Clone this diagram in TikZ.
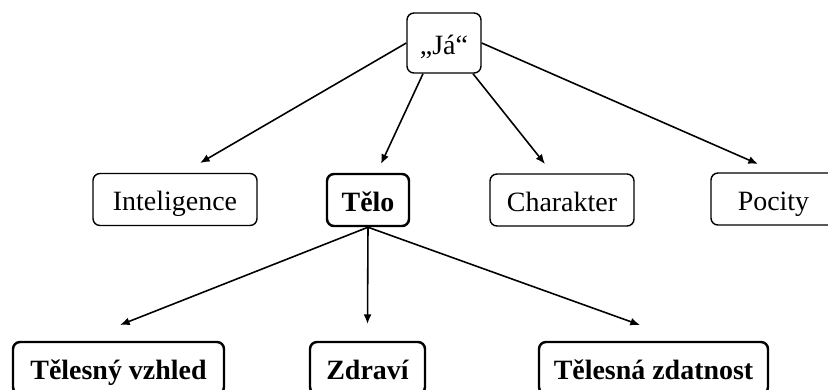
\documentclass[tikz,border=0pt]{standalone}
\usepackage{fontspec}
\setmainfont{Liberation Serif}
\usetikzlibrary{arrows.meta}
\newcommand{\boxfont}{\fontsize{15.9}{18}\selectfont}
\tikzset{
  box/.style={draw,rounded corners=0.14cm,line width=0.8pt,inner sep=0pt,minimum height=1.04cm,
    text height=13pt,text depth=0pt,font=\boxfont},
  boldbox/.style={box,line width=1.4pt,font=\boxfont\bfseries},
}
\begin{document}
\begin{tikzpicture}[line join=round,line width=0.9pt,>={Latex[length=5.5pt,width=4.5pt]}]
\useasboundingbox (0,0) rectangle (16.56,-7.78);

\node[box,minimum width=1.48cm,minimum height=1.2cm] (ja) at (8.88,-0.86) {„Já“};

\node[box,minimum width=3.28cm]     (intel)    at (3.50,-3.99) {Inteligence};
\node[boldbox,minimum width=1.64cm] (telo)     at (7.36,-4.00) {Tělo};
\node[box,minimum width=2.88cm]     (char)     at (11.24,-4.00) {Charakter};
\node[box,minimum width=2.50cm]     (pocity)   at (15.47,-3.98) {Pocity};

\node[boldbox,minimum width=4.22cm] (vzhled)   at (2.37,-7.36) {Tělesný vzhled};
\node[boldbox,minimum width=2.30cm] (zdravi)   at (7.35,-7.36) {Zdraví};
\node[boldbox,minimum width=4.58cm] (zdatnost) at (13.07,-7.36) {Tělesná zdatnost};

    \coordinate (intelT)    at (4.00,-3.26);
    \coordinate (teloT)     at (7.62,-3.28);
    \coordinate (charT)     at (10.90,-3.28);
    \coordinate (pocityT)   at (15.16,-3.28);
    \coordinate (vzhledT)   at (2.40,-6.50);
    \coordinate (zdraviT)   at (7.35,-6.48);
    \coordinate (zdatnostT) at (12.80,-6.50);

\draw[->] (ja.west) -- (intelT);
\draw[->] ([xshift=-0.42cm]ja.south) -- (teloT);
\draw[->] ([xshift=0.58cm]ja.south) -- (charT);
\draw[->] (ja.east) -- (pocityT);
\draw[->] (telo.south) -- (vzhledT);
\draw[->] (telo.south) -- (zdraviT);
\draw[->] (telo.south) -- (zdatnostT);
\end{tikzpicture}
\end{document}
